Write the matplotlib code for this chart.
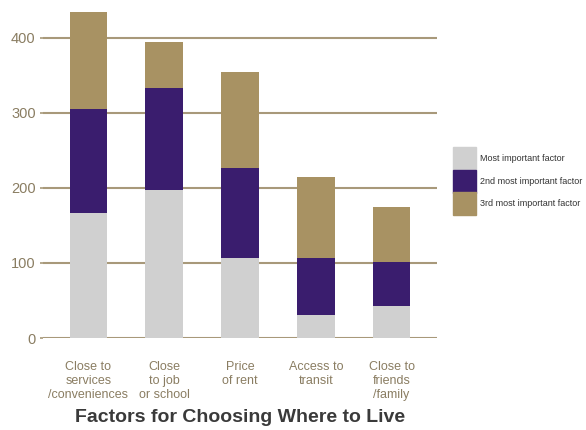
import matplotlib
matplotlib.use("Agg")
import matplotlib.pyplot as plt
from matplotlib.patches import Rectangle
import numpy as np

plt.rcParams['font.family'] = ['Liberation Sans', 'DejaVu Sans']

categories = ["Close to\nservices\n/conveniences", "Close\nto job\nor school", "Price\nof rent",
              "Access to\ntransit", "Close to\nfriends\n/family"]
most = [167, 197, 107, 31, 43]
second = [138, 136, 119, 75, 58]
third = [129, 61, 128, 109, 74]
series_names = ["Most important factor", "2nd most important factor", "3rd most important factor"]
yticks = [0, 100, 200, 300, 400]

colors = ["#d0d0d0", "#3a1d6e", "#a89263"]
grid_c = "#a8997a"
text_c = "#8a7d62"

fig = plt.figure(figsize=(5.86, 4.30), dpi=100)
W, H = 586, 430
ax = fig.add_axes([43 / W, 1 - 338 / H, (437 - 43) / W, 338 / H])
x = np.arange(len(categories))
bottom = np.zeros(len(categories))
for vals, c in zip([most, second, third], colors):
    ax.bar(x, vals, width=0.5, bottom=bottom, color=c, edgecolor="none", zorder=3)
    bottom += np.array(vals)

ax.set_xlim(-0.6, 4.6)
ax.set_ylim(0, 450)
ax.set_yticks(yticks)
ax.set_yticklabels([str(v) for v in yticks], color=text_c, fontsize=10.5)
for v in yticks:
    ax.axhline(v, color=grid_c, lw=1.5, zorder=1)
ax.tick_params(axis="y", length=2.5, color=grid_c, width=1.2, pad=2.8)
ax.set_xticks(x)
ax.set_xticklabels(categories, color=text_c, fontsize=9, linespacing=1.2)
ax.tick_params(axis="x", length=0, pad=16.5)
for s in ax.spines.values():
    s.set_visible(False)

# legend drawn as figure patches
box_tops = [147, 170, 192]
box_h = 22.5
for name, c, top in zip(series_names, colors, box_tops):
    fig.patches.append(Rectangle((453 / W, 1 - (top + box_h) / H), 23 / W, box_h / H,
                                 transform=fig.transFigure, color=c, figure=fig))
    fig.text(480 / W, 1 - (top + box_h / 2) / H, name, ha="left", va="center",
             fontsize=6.5, color="#333333")

fig.text(240 / W, 1 - 417 / H, "Factors for Choosing Where to Live", ha="center", va="center",
         fontsize=14, fontweight="bold", color="#3a3a3a")

fig.savefig("out.png", dpi=100)
